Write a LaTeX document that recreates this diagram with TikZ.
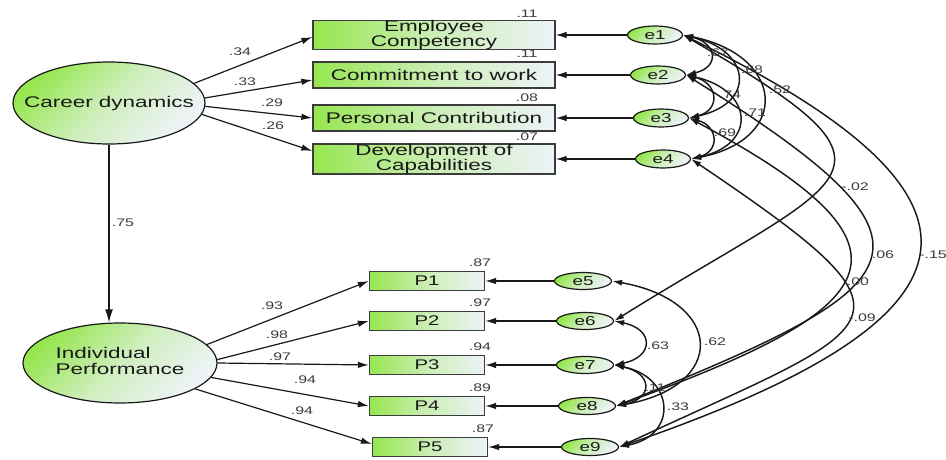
\documentclass[tikz,border=0pt]{standalone}
\usepackage{fontspec}
\setmainfont{Liberation Sans}
\newfontfamily\semfont[FakeStretch=1.45]{Liberation Sans}
\usetikzlibrary{arrows.meta,shapes.geometric}
\definecolor{lime}{RGB}{150,230,80}
\definecolor{paleblue}{RGB}{238,243,248}
\definecolor{ink}{RGB}{25,25,25}
\begin{document}
\begin{tikzpicture}[x=1pt,y=1pt,
  latent/.style={ellipse, draw=ink, line width=1.2pt, inner sep=0pt,
    top color=lime, bottom color=paleblue, middle color=lime!35!paleblue,
    shading angle=45, text=ink, font=\semfont\fontsize{15.5}{14}\selectfont},
  errvar/.style={latent, minimum width=55pt, minimum height=18pt,
    font=\semfont\fontsize{13}{14}\selectfont},
  obsbox/.style={rectangle, draw=ink!85, line width=1.3pt, inner sep=0pt,
    left color=lime, right color=paleblue, middle color=lime!40!paleblue,
    minimum width=242pt, minimum height=26pt, align=center, text=ink,
    font=\semfont\fontsize{15.5}{13}\selectfont},
  pbox/.style={obsbox, minimum width=115pt, minimum height=19pt,
    font=\semfont\fontsize{14}{14}\selectfont},
  num/.style={inner sep=0pt, text=ink!85, font=\semfont\fontsize{11}{12}\selectfont},
  regarrow/.style={draw=ink, line width=1.2pt, -{Latex[length=11pt,width=6.5pt]}},
  cov/.style={draw=ink, line width=1.45pt,
    {Latex[length=10pt,width=6pt]}-{Latex[length=10pt,width=6pt]}}
]
\useasboundingbox (0,0) rectangle (946,459);
\fill[white] (0,0) rectangle (946,459);

% latent variables
\node[latent, minimum width=192pt, minimum height=82pt] (cd) at (109,356)
  {\makebox[0pt]{Career dynamics}};
\node[latent, minimum width=194pt, minimum height=80pt] (ip) at (120,96)
  {\makebox[0pt]{\begin{tabular}{@{}l@{}}Individual\\Performance\end{tabular}}};

% indicators of career dynamics
\node[obsbox] (b1) at (434,424) {Employee\\Competency};
\node[obsbox] (b2) at (434,384) {Commitment to work};
\node[obsbox] (b3) at (434,341) {Personal Contribution};
\node[obsbox] (b4) at (434,300) {Development of\\Capabilities};

% indicators of individual performance
\node[pbox] (p1) at (427,178) {P1};
\node[pbox] (p2) at (427,138) {P2};
\node[pbox] (p3) at (427,94) {P3};
\node[pbox] (p4) at (427,53) {P4};
\node[pbox] (p5) at (430,12) {P5};

% error terms
\node[errvar] (e1) at (655,424) {e1};
\node[errvar] (e2) at (658,384) {e2};
\node[errvar] (e3) at (661,341) {e3};
\node[errvar] (e4) at (663,300) {e4};
\node[errvar, minimum width=57pt, minimum height=17pt] (e5) at (583,178) {e5};
\node[errvar, minimum width=57pt, minimum height=17pt] (e6) at (585,138) {e6};
\node[errvar, minimum width=57pt, minimum height=17pt] (e7) at (585,94) {e7};
\node[errvar, minimum width=57pt, minimum height=17pt] (e8) at (587,53) {e8};
\node[errvar, minimum width=57pt, minimum height=17pt] (e9) at (590,12) {e9};

% structural and measurement paths
\draw[regarrow, -{Latex[length=13pt,width=8pt]}] (cd.south) -- (cd.south |- ip.north);
\draw[regarrow] (cd.13) -- ([yshift=-2pt]b1.west);
\draw[regarrow] (cd.3) -- ([yshift=-5pt]b2.west);
\draw[regarrow] (cd.-2) -- (b3.west);
\draw[regarrow] (cd.-7) -- ([yshift=8pt]b4.west);
\draw[regarrow] (ip.12) -- (p1.west);
\draw[regarrow] (ip.2.5) -- (p2.west);
\draw[regarrow] (ip.-0.6) -- (p3.west);
\draw[regarrow] (ip.-9) -- (p4.west);
\draw[regarrow] (ip.-19) -- ([yshift=3pt]p5.west);

\foreach \e/\b in {e1/b1,e2/b2,e3/b3,e4/b4,e5/p1,e6/p2,e7/p3,e8/p4,e9/p5}
  \draw[regarrow] (\e) -- (\b);

% error covariances among e1-e4
\draw[cov] (e1.east) .. controls +(34,-8) and +(34,8) .. (e2.east);
\draw[cov] (e1.east) .. controls +(68,-15) and +(68,15) .. (e3.east);
\draw[cov] (e1.east) .. controls +(101,-20) and +(101,20) .. (e4.east);
\draw[cov] (e2.east) .. controls +(32,-8) and +(32,8) .. (e3.east);
\draw[cov] (e2.east) .. controls +(67,-15) and +(67,15) .. (e4.east);
\draw[cov] (e3.east) .. controls +(29,-8) and +(29,8) .. (e4.east);

% long covariances between the two blocks
\draw[cov] (e1.east) .. controls +(-30:280) and +(32:280) .. (e6.east);
\draw[cov] (e1.east) .. controls +(-26:385) and +(19:385) .. (e9.east);
\draw[cov] (e2.east) .. controls +(-32:327) and +(22:327) .. (e8.east);
\draw[cov] (e3.east) .. controls +(-28:283) and +(20:283) .. (e8.east);
\draw[cov] (e4.east) .. controls +(-34:298) and +(25:298) .. (e9.east);

% error covariances among e5-e9
\draw[cov] (e6.east) .. controls +(40,-8) and +(40,8) .. (e7.east);
\draw[cov] (e5.east) .. controls +(112,-20) and +(112,20) .. (e8.east);
\draw[cov] (e7.east) .. controls +(38,-8) and +(38,8) .. (e8.east);
\draw[cov] (e7.east) .. controls +(60,-12) and +(60,12) .. (e9.east);

% squared multiple correlations
\node[num] (r1) at (527,445) {.11};
\node[num] (r2) at (527,405) {.11};
\node[num] (r3) at (527,361) {.08};
\node[num] (r4) at (527,322) {.07};
\node[num] (r5) at (480,196) {.87};
\node[num] (r6) at (480,156) {.97};
\node[num] (r7) at (480,112) {.94};
\node[num] (r8) at (480,71) {.89};
\node[num] (r9) at (483,30) {.87};

% path coefficients
\node[num] (w1) at (240,407) {.34};
\node[num] (w2) at (245,377) {.33};
\node[num] (w3) at (272,356) {.29};
\node[num] (w4) at (273,333) {.26};
\node[num] (w5) at (123,236) {.75};
\node[num] (w6) at (272,153) {.93};
\node[num] (w7) at (277,124) {.98};
\node[num] (w8) at (280,102) {.97};
\node[num] (w9) at (305,79) {.94};
\node[num] (w10) at (302,48) {.94};

% covariance values
\node[num] (c12) at (718,406) {.67};
\node[num] (c13) at (752,389) {.68};
\node[num] (c14) at (780,369) {.52};
\node[num] (c23) at (730,364) {.74};
\node[num] (c24) at (755,346) {.71};
\node[num] (c34) at (725,326) {.69};
\node[num] (c16) at (855,272) {-.02};
\node[num] (c28) at (883,204) {.06};
\node[num] (c19) at (933,204) {-.15};
\node[num] (c38) at (858,177) {.00};
\node[num] (c49) at (862,141) {-.09};
\node[num] (c58) at (715,117) {.62};
\node[num] (c67) at (658,113) {.63};
\node[num] (c78) at (655,71) {.11};
\node[num] (c79) at (678,52) {.33};
\end{tikzpicture}
\end{document}
